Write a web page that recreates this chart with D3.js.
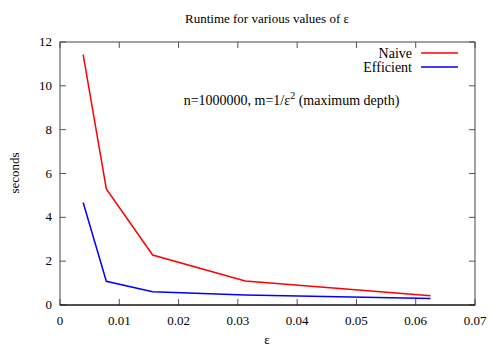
<!DOCTYPE html>
<html><head><meta charset="utf-8">
<script src="https://cdn.jsdelivr.net/npm/d3@7"></script>
<style>body{margin:0;background:#fff}</style>
</head><body><svg id="c" width="500" height="350" font-family="'Liberation Serif', 'Times New Roman', serif"></svg>
<script>
const epsilons = [1/256, 1/128, 1/64, 1/32, 1/16];
const naive = [11.42, 5.30, 2.28, 1.10, 0.42];
const efficient = [4.68, 1.08, 0.61, 0.46, 0.30];
const xTicks = [0, 0.01, 0.02, 0.03, 0.04, 0.05, 0.06, 0.07];
const yTicks = [0, 2, 4, 6, 8, 10, 12];
const seriesNames = ["Naive", "Efficient"];
const seriesColors = ["#ff0000", "#0000ff"];

const FF = "'Liberation Serif', 'Times New Roman', serif";
const FS = 13;
const svg = d3.select("#c");
const L = 60, R = 475, T = 42, B = 305;
const x = d3.scaleLinear().domain([0, 0.07]).range([L, R]);
const y = d3.scaleLinear().domain([0, 12]).range([B, T]);

const fmtX = d => d === 0 ? "0" : d3.format(".2f")(d);
const g = svg.append("g").attr("stroke", "#555").attr("stroke-width", 1);
xTicks.forEach(t => {
  g.append("line").attr("x1", x(t)).attr("x2", x(t)).attr("y1", B).attr("y2", B - 6);
  g.append("line").attr("x1", x(t)).attr("x2", x(t)).attr("y1", T).attr("y2", T + 6);
});
yTicks.forEach(t => {
  g.append("line").attr("x1", L).attr("x2", L + 6).attr("y1", y(t)).attr("y2", y(t));
  g.append("line").attr("x1", R).attr("x2", R - 6).attr("y1", y(t)).attr("y2", y(t));
});
svg.append("rect").attr("x", L).attr("y", T).attr("width", R - L).attr("height", B - T)
  .attr("fill", "none").attr("stroke", "#444").attr("stroke-width", 1);
svg.append("line").attr("x1", L).attr("x2", R).attr("y1", B).attr("y2", B).attr("stroke", "#000");

function txt(sel, fs) { return sel.attr("font-family", FF).attr("font-size", fs || FS).attr("fill", "#000"); }

txt(svg.append("g").selectAll("text").data(xTicks).join("text")
  .attr("x", d => x(d)).attr("y", B + 20).attr("text-anchor", "middle")).text(fmtX);
txt(svg.append("g").selectAll("text").data(yTicks).join("text")
  .attr("x", L - 8).attr("y", d => y(d) + 4).attr("text-anchor", "end")).text(d => d);

const line = d3.line().x((d, i) => x(epsilons[i])).y(d => y(d));
[naive, efficient].forEach((s, k) => {
  svg.append("path").attr("d", line(s)).attr("fill", "none")
    .attr("stroke", seriesColors[k]).attr("stroke-width", 1.5);
});

seriesNames.forEach((n, k) => {
  const yy = 53 + k * 14;
  txt(svg.append("text").attr("x", 412).attr("y", yy + 4.5).attr("text-anchor", "end"), 14).text(n);
  svg.append("line").attr("x1", 421).attr("x2", 458).attr("y1", yy).attr("y2", yy)
    .attr("stroke", seriesColors[k]).attr("stroke-width", 1.5);
});

txt(svg.append("text").attr("x", 267).attr("y", 23).attr("text-anchor", "middle"))
  .text("Runtime for various values of ε");
const ann = txt(svg.append("text").attr("x", 291.5).attr("y", 105).attr("text-anchor", "middle"), 14);
ann.append("tspan").text("n=1000000, m=1/ε");
ann.append("tspan").attr("dy", -6).attr("font-size", 10).text("2");
ann.append("tspan").attr("dy", 6).text(" (maximum depth)");
txt(svg.append("text").attr("x", 267).attr("y", 344).attr("text-anchor", "middle")).text("ε");
txt(svg.append("text").attr("transform", "translate(19,173) rotate(-90)").attr("text-anchor", "middle"))
  .text("seconds");
</script></body></html>
